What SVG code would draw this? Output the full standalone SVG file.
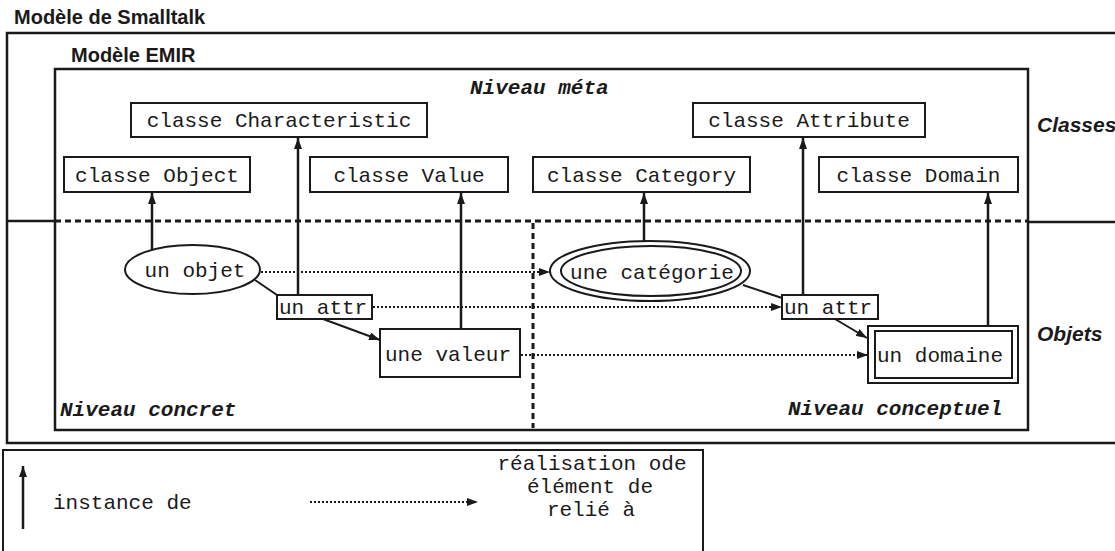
<svg xmlns="http://www.w3.org/2000/svg" width="1115" height="551" viewBox="0 0 1115 551">
  <defs>
    <marker id="ah" markerUnits="userSpaceOnUse" markerWidth="11" markerHeight="8" refX="11" refY="4" orient="auto">
      <path d="M0,0 L11,4 L0,8 z" fill="#1a1a1a"/>
    </marker>
    <style>
      .frame { fill: none; stroke: #1a1a1a; stroke-width: 2.5; }
      .box { fill: #ffffff; stroke: #1a1a1a; stroke-width: 2; }
      .mono { font-family: "Courier New", "Liberation Mono", monospace; font-size: 21px; fill: #1a1a1a; }
      .lvl { font-family: "Courier New", "Liberation Mono", monospace; font-size: 21px; font-weight: bold; font-style: italic; fill: #1a1a1a; }
      .sans { font-family: "Liberation Sans", Arial, sans-serif; font-size: 20px; font-weight: bold; fill: #1a1a1a; }
      .sansi { font-family: "Liberation Sans", Arial, sans-serif; font-size: 21px; font-weight: bold; font-style: italic; fill: #1a1a1a; }
      .inst { fill: none; stroke: #1a1a1a; stroke-width: 2.5; }
      .link { fill: none; stroke: #1a1a1a; stroke-width: 2; }
      .dot { fill: none; stroke: #1a1a1a; stroke-width: 2; stroke-dasharray: 2 2; }
      .dash { fill: none; stroke: #1a1a1a; stroke-width: 3; stroke-dasharray: 6 4; }
    </style>
  </defs>
  <rect width="1115" height="551" fill="#ffffff"/>

  <!-- Smalltalk frame -->
  <g id="smalltalk">
    <text class="sans" x="14" y="24">Modèle de Smalltalk</text>
    <path class="frame" d="M1117,33 H7 V443 H1117"/>
    <line class="frame" x1="7" y1="221" x2="55" y2="221"/>
    <line class="frame" x1="1028" y1="222" x2="1117" y2="222"/>
    <text class="sansi" x="1037" y="132">Classes</text>
    <text class="sansi" x="1037" y="341">Objets</text>
  </g>

  <!-- EMIR frame -->
  <g id="emir">
    <text class="sans" x="71" y="62">Modèle EMIR</text>
    <rect class="frame" x="55" y="69" width="973" height="361"/>
    <text class="lvl" x="470" y="94">Niveau méta</text>
    <text class="lvl" x="60" y="416">Niveau concret</text>
    <text class="lvl" x="788" y="415">Niveau conceptuel</text>
  </g>

  <!-- level separators -->
  <g id="separators">
    <line class="dash" x1="55" y1="221" x2="1028" y2="221"/>
    <line class="dash" x1="533" y1="223" x2="533" y2="428"/>
  </g>

  <!-- class nodes -->
  <g id="classe-characteristic">
    <rect class="box" x="131" y="103" width="296" height="34"/>
    <text class="mono" x="279" y="127" text-anchor="middle">classe Characteristic</text>
  </g>
  <g id="classe-attribute">
    <rect class="box" x="693" y="103" width="232" height="34"/>
    <text class="mono" x="809" y="127" text-anchor="middle">classe Attribute</text>
  </g>
  <g id="classe-object">
    <rect class="box" x="64" y="157" width="186" height="35"/>
    <text class="mono" x="157" y="182" text-anchor="middle">classe Object</text>
  </g>
  <g id="classe-value">
    <rect class="box" x="310" y="157" width="198" height="35"/>
    <text class="mono" x="409" y="182" text-anchor="middle">classe Value</text>
  </g>
  <g id="classe-category">
    <rect class="box" x="533" y="157" width="217" height="35"/>
    <text class="mono" x="641.5" y="182" text-anchor="middle">classe Category</text>
  </g>
  <g id="classe-domain">
    <rect class="box" x="819" y="157" width="199" height="35"/>
    <text class="mono" x="918.5" y="182" text-anchor="middle">classe Domain</text>
  </g>

  <!-- object nodes -->
  <g id="un-objet">
    <ellipse class="box" cx="192.5" cy="269.5" rx="67.5" ry="24.5"/>
    <text class="mono" x="195" y="277" text-anchor="middle">un objet</text>
  </g>
  <g id="un-attr-concret">
    <rect class="box" x="277" y="295" width="95" height="24"/>
    <text class="mono" x="279" y="314">un attr</text>
  </g>
  <g id="une-valeur">
    <rect class="box" x="380" y="329" width="140" height="48"/>
    <text class="mono" x="385" y="361">une valeur</text>
  </g>
  <g id="une-categorie">
    <ellipse class="box" cx="650" cy="271" rx="100" ry="30"/>
    <ellipse class="box" cx="651" cy="271" rx="90" ry="25"/>
    <text class="mono" x="652" y="279" text-anchor="middle">une catégorie</text>
  </g>
  <g id="un-attr-conceptuel">
    <rect class="box" x="782" y="295" width="96" height="24"/>
    <text class="mono" x="784" y="314">un attr</text>
  </g>
  <g id="un-domaine">
    <rect class="box" x="868" y="326" width="150" height="57"/>
    <rect class="box" x="875" y="331" width="137" height="47"/>
    <text class="mono" x="877" y="362">un domaine</text>
  </g>

  <!-- connectors -->
  <g id="connectors">
    <line class="inst" x1="152" y1="250" x2="152" y2="193" marker-end="url(#ah)"/>
    <line class="inst" x1="298" y1="295" x2="298" y2="138" marker-end="url(#ah)"/>
    <line class="inst" x1="461" y1="329" x2="461" y2="193" marker-end="url(#ah)"/>
    <line class="inst" x1="644" y1="241" x2="644" y2="193" marker-end="url(#ah)"/>
    <line class="inst" x1="803" y1="295" x2="803" y2="138" marker-end="url(#ah)"/>
    <line class="inst" x1="988" y1="326" x2="988" y2="193" marker-end="url(#ah)"/>

    <line class="link" x1="255" y1="280" x2="277" y2="295"/>
    <line class="link" x1="743" y1="285" x2="782" y2="298"/>
    <line class="link" x1="323" y1="319" x2="380" y2="340" marker-end="url(#ah)"/>
    <line class="link" x1="835" y1="319" x2="867" y2="338" marker-end="url(#ah)"/>

    <line class="dot" x1="261" y1="272" x2="550" y2="272" marker-end="url(#ah)"/>
    <line class="dot" x1="373" y1="307" x2="782" y2="307" marker-end="url(#ah)"/>
    <line class="dot" x1="521" y1="355" x2="868" y2="355" marker-end="url(#ah)"/>
  </g>

  <!-- legend -->
  <g id="legend">
    <rect class="box" x="3" y="450" width="700" height="103"/>
    <line class="inst" x1="23" y1="529" x2="23" y2="466" marker-end="url(#ah)"/>
    <text class="mono" x="53" y="509">instance de</text>
    <line class="dot" x1="310" y1="502" x2="478" y2="502" marker-end="url(#ah)"/>
    <text class="mono" x="592" y="470" text-anchor="middle">réalisation ode</text>
    <text class="mono" x="590" y="493" text-anchor="middle">élément de</text>
    <text class="mono" x="591" y="516" text-anchor="middle">relié à</text>
  </g>
</svg>
